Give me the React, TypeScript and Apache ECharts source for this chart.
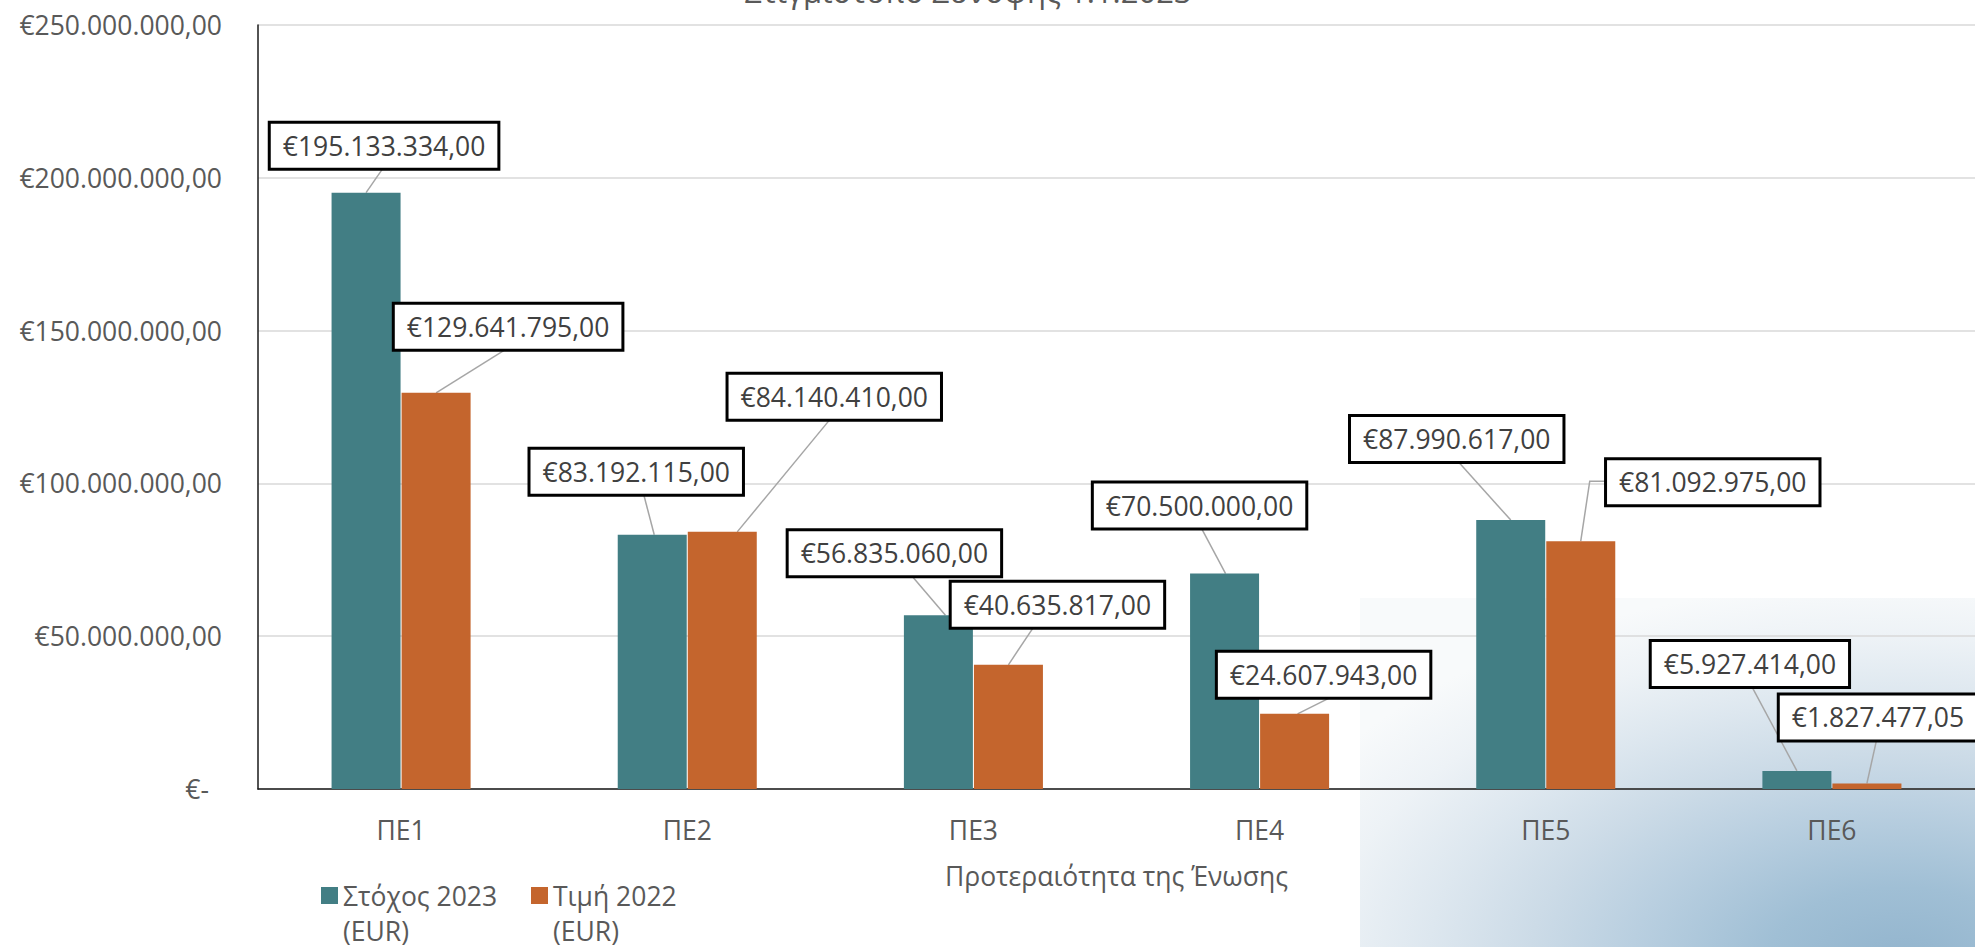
import React, { useEffect, useRef } from "react";
import * as echarts from "echarts";

// ---- data ----
const CATEGORIES = ["ΠΕ1", "ΠΕ2", "ΠΕ3", "ΠΕ4", "ΠΕ5", "ΠΕ6"];
const SERIES_TARGET_NAME = "Στόχος 2023\n(EUR)";
const SERIES_VALUE_NAME = "Τιμή 2022\n(EUR)";
const TARGET_2023 = [195133334, 83192115, 56835060, 70500000, 87990617, 5927414];
const VALUE_2022 = [129641795, 84140410, 40635817, 24607943, 81092975, 1827477.05];
const Y_MIN = 0;
const Y_MAX = 250000000;
const Y_INTERVAL = 50000000;
const TITLE = "Στιγμιότυπο Σύνοψης 1.1.2023";
const X_NAME = "Προτεραιότητα της Ένωσης";

// ---- layout (label callout placement relative to bar top centre) ----
const LABEL_OFFSETS_TARGET = [[18, -47], [-16, -63], [-44, -62], [-25, -68], [-54, -81], [-47, -107]];
const LABEL_OFFSETS_VALUE = [[72, -66], [112, -135], [49, -60], [29, -39], [132, -59], [11, -66]];
const LEADER_TARGET: any[] = [
  { a: [0, 21], b: 0 },
  { a: [7, 21], b: 2 },
  { a: [16, 21], b: 7 },
  { a: [1, 21], b: 1 },
  { a: [0, 21], b: 0 },
  { a: [1, 21], b: 0 },
];
const LEADER_VALUE: any[] = [
  { a: [0, 21], b: 0 },
  { a: [-3, 21], b: 15 },
  { a: [-23, 21], b: 0 },
  { a: [10, 21], b: 3 },
  { a: [-104, -1], b: 0, elbow: [9, -60] },
  { a: [-1, 21], b: 0 },
];
const BAR_WIDTH = 69;
const BAR_SHIFT = 35;

const FONT = '"Open Sans", "Noto Sans", sans-serif';
const TEAL = "#427E84";
const ORANGE = "#C4652D";

function fmtEuro(v: number): string {
  if (v === 0) return "{z|€-}";
  const [i, d] = v.toFixed(2).split(".");
  return "€" + i.replace(/\B(?=(\d{3})+(?!\d))/g, ".") + "," + d;
}
function fmtLabel(v: number): string {
  const [i, d] = v.toFixed(2).split(".");
  return "€" + i.replace(/\B(?=(\d{3})+(?!\d))/g, ".") + "," + d;
}

export default function App() {
  const ref = useRef<HTMLDivElement>(null);
  useEffect(() => {
    const chart = echarts.init(ref.current!, null, { renderer: "svg" });

    const labelStyle = {
      show: true,
      position: "top",
      formatter: (p: any) => fmtLabel(p.value),
      fontFamily: FONT,
      fontSize: 26.5,
      lineHeight: 30,
      color: "#404040",
      backgroundColor: "#ffffff",
      borderColor: "#000000",
      borderWidth: 3,
      padding: [7, 12, 7, 12],
    };

    const makeLayout = (offsets: number[][]) => (params: any) => {
      const o = offsets[params.dataIndex];
      const r = params.rect;
      return {
        x: r.x + r.width / 2 + o[0],
        y: r.y + o[1],
        align: "center",
        verticalAlign: "middle",
      };
    };

    const leaderData = [
      ...TARGET_2023.map((v, i) => [i, v, 0, i]),
      ...VALUE_2022.map((v, i) => [i, v, 1, i]),
    ];

    const legendText = {
      fontFamily: FONT,
      fontSize: 26.5,
      lineHeight: 35,
      color: "#595959",
    };

    const option: any = {
      animation: false,
      title: {
        text: TITLE,
        left: 968,
        top: -25,
        padding: 0,
        textAlign: "center",
        textStyle: { fontFamily: FONT, fontSize: 31, fontWeight: "normal", color: "#595959" },
      },
      graphic: [
        {
          type: "rect",
          silent: true,
          z: -1,
          shape: { x: 1360, y: 598, width: 615, height: 349 },
          style: {
            fill: new echarts.graphic.RadialGradient(
              0.88,
              1.05,
              1.1,
              [
                { offset: 0, color: "#92B4CD" },
                { offset: 0.2, color: "#A0BFD5" },
                { offset: 0.4, color: "#B9CFE0" },
                { offset: 0.55, color: "#CCDBE7" },
                { offset: 0.7, color: "#DDE7EF" },
                { offset: 0.85, color: "#EDF2F6" },
                { offset: 1, color: "#F8FAFB" },
              ],
              false
            ),
          },
        },
      ],
      legend: [
        {
          data: [SERIES_TARGET_NAME],
          left: 321,
          top: 843,
          padding: 0,
          icon: "rect",
          itemWidth: 17,
          itemHeight: 17,
          formatter: (name: string) => " \n" + name,
          textStyle: legendText,
        },
        {
          data: [SERIES_VALUE_NAME],
          left: 531,
          top: 843,
          padding: 0,
          icon: "rect",
          itemWidth: 17,
          itemHeight: 17,
          formatter: (name: string) => " \n" + name,
          textStyle: legendText,
        },
      ],
      grid: { left: 258, top: 25, width: 1721, height: 764, containLabel: false },
      xAxis: {
        type: "category",
        data: CATEGORIES,
        axisTick: { show: false },
        axisLine: { show: true, lineStyle: { color: "#1a1a1a", width: 1.5 } },
        axisLabel: { fontFamily: FONT, fontSize: 26.5, color: "#595959", margin: 27 },
        name: X_NAME,
        nameLocation: "middle",
        nameGap: 73,
        nameTextStyle: { fontFamily: FONT, fontSize: 26.5, color: "#595959" },
      },
      yAxis: {
        type: "value",
        min: Y_MIN,
        max: Y_MAX,
        interval: Y_INTERVAL,
        axisLine: { show: true, lineStyle: { color: "#1a1a1a", width: 1.5 } },
        axisTick: { show: false },
        splitLine: { lineStyle: { color: "#D9D9D9", width: 1.5 } },
        axisLabel: {
          fontFamily: FONT,
          fontSize: 26.5,
          color: "#595959",
          margin: 36,
          formatter: (v: number) => fmtEuro(v),
          rich: { z: { fontFamily: FONT, fontSize: 26.5, color: "#595959", padding: [0, 13, 0, 0] } },
        },
      },
      series: [
        {
          name: SERIES_TARGET_NAME,
          type: "bar",
          data: TARGET_2023,
          barWidth: BAR_WIDTH,
          barGap: "1.5%",
          itemStyle: { color: TEAL },
          label: labelStyle,
          labelLayout: makeLayout(LABEL_OFFSETS_TARGET),
          z: 3,
        },
        {
          name: SERIES_VALUE_NAME,
          type: "bar",
          data: VALUE_2022,
          barWidth: BAR_WIDTH,
          barGap: "1.5%",
          itemStyle: { color: ORANGE },
          label: labelStyle,
          labelLayout: makeLayout(LABEL_OFFSETS_VALUE),
          z: 3,
        },
        {
          name: "leaders",
          type: "custom",
          z: 1,
          clip: false,
          silent: true,
          encode: { x: 0, y: 1 },
          data: leaderData,
          renderItem: (params: any, api: any) => {
            const cat = api.value(0);
            const val = api.value(1);
            const s = api.value(2);
            const i = api.value(3);
            const top = api.coord([cat, val]);
            const bx = top[0] + (s === 0 ? -BAR_SHIFT : BAR_SHIFT);
            const by = top[1];
            const lo = (s === 0 ? LABEL_OFFSETS_TARGET : LABEL_OFFSETS_VALUE)[i];
            const ld = (s === 0 ? LEADER_TARGET : LEADER_VALUE)[i];
            const pts: number[][] = [[bx + ld.b, by]];
            if (ld.elbow) pts.push([bx + ld.elbow[0], by + ld.elbow[1]]);
            pts.push([bx + lo[0] + ld.a[0], by + lo[1] + ld.a[1]]);
            return {
              type: "polyline",
              shape: { points: pts },
              style: { stroke: "#A6A6A6", lineWidth: 1.5, fill: "none" },
            };
          },
        },
      ],
    };

    chart.setOption(option);
    return () => chart.dispose();
  }, []);

  return (
    <div
      ref={ref}
      style={{ position: "absolute", left: 0, top: 0, width: "1975px", height: "947px" }}
    />
  );
}
